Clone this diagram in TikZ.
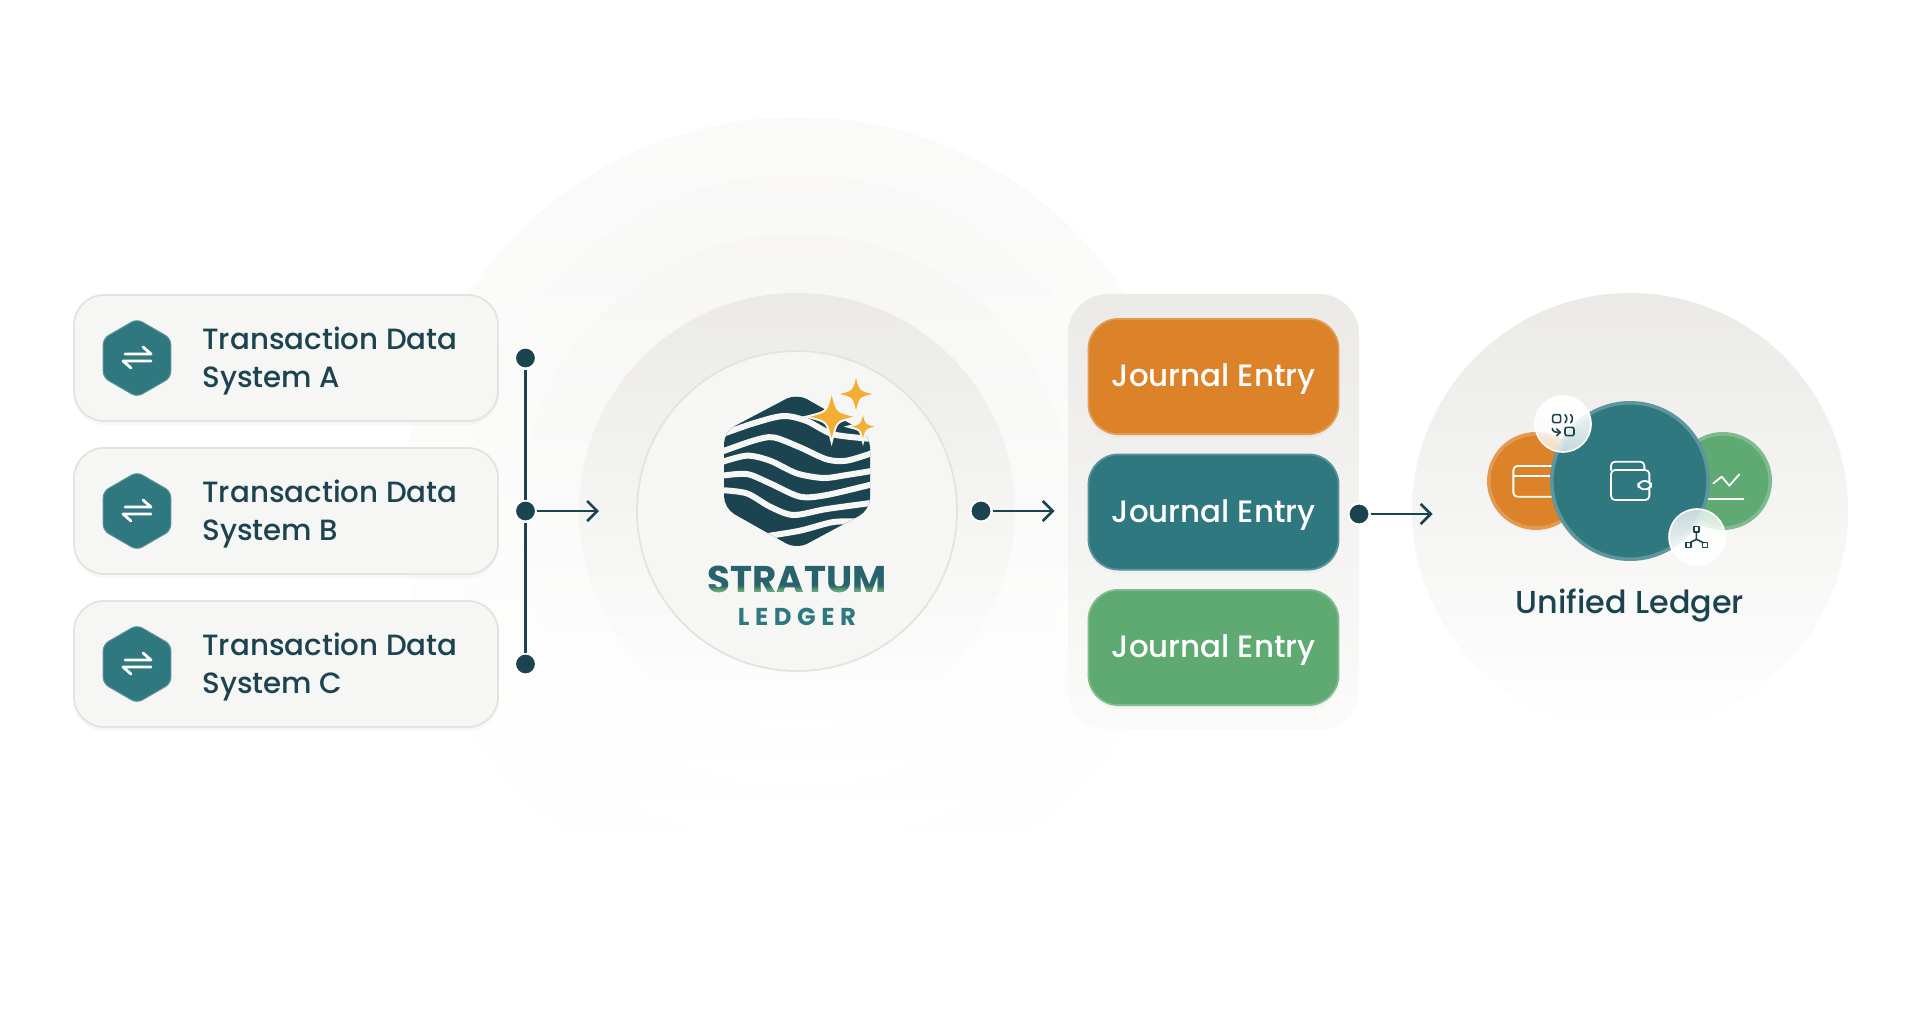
\documentclass[tikz,border=0pt]{standalone}
\usepackage{fontspec}
\setmainfont{Poppins}[UprightFont=* Medium,BoldFont=* Bold]
\usetikzlibrary{shapes.geometric, arrows.meta, positioning, shadows, fadings}

\definecolor{inkdark}{HTML}{1C4450}
\definecolor{tealmain}{HTML}{2F7880}
\definecolor{orangemain}{HTML}{DC8228}
\definecolor{greenmain}{HTML}{5FAA72}
\definecolor{goldstar}{HTML}{F3AE33}
\definecolor{cardfill}{HTML}{F6F6F4}
\definecolor{cardline}{HTML}{E4E3DD}
\definecolor{ringtop}{HTML}{EBEAE7}

\newcommand{\swaparrows}[1]{%
    \draw [swapline, shift={(#1)}] (-12,-4) -- (14,-4) -- (6,-11);
    \draw [swapline, shift={(#1)}] (14,3) -- (-14,3) -- (-6,10);
}
\newcommand{\sparkle}[3]{%
    \path [preaction={draw=cardfill, line width=2pt}, fill=goldstar, shift={(#1,#2)}, scale=#3]
        (0,-1) .. controls (.2,-.2) .. (1,0) .. controls (.2,.2) .. (0,1)
        .. controls (-.2,.2) .. (-1,0) .. controls (-.2,-.2) .. (0,-1) -- cycle;
}

\begin{document}
\begin{tikzpicture}[
        x=0.5pt, y=-0.5pt,
        >={Straight Barb[length=5pt, width=10pt]},
        every node/.style={font=\fontsize{14.65}{19}\selectfont, text=inkdark},
        ring/.style={circle, inner sep=0pt, outer sep=0pt, top color=#1, bottom color=white, draw=none},
        card/.style={draw=cardline, line width=0.9pt, fill=cardfill, rectangle, rounded corners=15pt, minimum width=212pt, minimum height=63pt, inner sep=0pt,
            drop shadow={shadow xshift=0pt, shadow yshift=-2pt, opacity=.05}},
        hexa/.style={regular polygon, regular polygon sides=6, shape border rotate=30, fill=tealmain, draw=tealmain!80!white, line width=0.5pt, minimum size=39pt, inner sep=0pt, rounded corners=3pt},
        cardtext/.style={align=left, inner sep=0pt, anchor=west},
        swapline/.style={draw=white, line width=1.4pt, line cap=round, line join=round},
        dot/.style={circle, fill=inkdark, draw=white, line width=1pt, minimum size=10.5pt, inner sep=0pt},
        link/.style={draw=inkdark, line width=1.3pt},
        wave/.style={draw=cardfill, line width=3pt},
        entry/.style={rectangle, fill=#1, draw=#1!80!white, line width=0.9pt, rounded corners=15pt, minimum width=125pt, minimum height=57.6pt, inner sep=0pt, text=white, text height=13.6pt, text depth=3.5pt, font=\fontsize{15.45}{19}\selectfont,
            drop shadow={shadow xshift=0pt, shadow yshift=-2pt, opacity=.05}},
        bubble/.style={circle, fill=#1, draw=#1!80!white, line width=1.8pt, minimum size=47.2pt, inner sep=0pt},
        glass/.style={circle, draw=white, line width=0.8pt, minimum size=28pt, inner sep=0pt},
        glassicon/.style={draw=inkdark, line width=0.8pt, line cap=round, line join=round},
        lineicon/.style={draw=white, line width=0.9pt, line cap=round, line join=round}
    ]
        \useasboundingbox (0,0) rectangle (1920,1023);
        \fill [white] (0,0) rectangle (1920,1023);

        % Rings
        \node [ring=ringtop!25!white, minimum size=394pt] (ringD) at (797,511) {};
        \node [ring=ringtop!32!white, minimum size=336pt] (ringC) at (797,511) {};
        \node [ring=ringtop!42!white, minimum size=277pt] (ringB) at (797,511) {};
        \node [ring=ringtop, minimum size=218pt] (ringA) at (797,511) {};
        \node [ring=ringtop, minimum size=218pt] (ringE) at (1630,511) {};

        % Sources
        \node [card] (sysA) at (286,358) {};
        \node [card, below=12.6pt of sysA] (sysB) {};
        \node [card, below=12.6pt of sysB] (sysC) {};
        \node [hexa] (hexA) at (137,358) {};
        \node [hexa] (hexB) at (137,511) {};
        \node [hexa] (hexC) at (137,664) {};
        \swaparrows{hexA}
        \swaparrows{hexB}
        \swaparrows{hexC}
        \node [cardtext] (textA) at (202,361) {Transaction Data\\System A};
        \node [cardtext] (textB) at (202,514) {Transaction Data\\System B};
        \node [cardtext] (textC) at (202,667) {Transaction Data\\System C};

        % Hub
        \node [circle, fill=cardfill, draw=cardline, line width=0.9pt, minimum size=160pt, inner sep=0pt] (hub) at (797,511) {};
        \begin{scope}[shift={(620,340)}, scale=1/3]
            \begin{scope}
                \path [clip, rounded corners=6pt] (312,275) -- (530,160) -- (750,285) -- (750,510) -- (530,628) -- (312,505) -- cycle;
                \fill [inkdark] (300,150) rectangle (760,640);
                \draw [wave] plot [smooth] coordinates {(300,285) (400,250) (490,228) (560,243) (640,283) (760,297)};
                \draw [wave] plot [smooth] coordinates {(300,337) (400,302) (460,292) (540,322) (620,358) (680,362) (760,338)};
                \draw [wave] plot [smooth] coordinates {(300,368) (380,347) (450,362) (530,400) (610,414) (680,405) (760,392)};
                \draw [wave] plot [smooth] coordinates {(300,408) (380,402) (450,430) (540,470) (620,465) (760,432)};
                \draw [wave] plot [smooth] coordinates {(300,450) (380,460) (450,500) (520,525) (620,507) (760,488)};
                \draw [wave] plot [smooth] coordinates {(430,590) (540,572) (640,546) (720,545)};
            \end{scope}
            \sparkle{708}{162}{48}
            \sparkle{729}{260}{34}
            \sparkle{635}{230}{64}
        \end{scope}
        \node [font=\fontsize{18.6}{20}\bfseries\selectfont, text=tealmain!60!inkdark] (stratum) at (797,579) {STRATUM};
        \fill [blend mode=lighten, greenmain!40!black] (700,584) rectangle (895,586);
        \fill [blend mode=lighten, greenmain!65!black] (700,586) rectangle (895,588);
        \fill [blend mode=lighten, greenmain!85!black] (700,588) rectangle (895,590);
        \fill [blend mode=lighten, greenmain] (700,590) rectangle (895,597);
        \node [font=\fontsize{12.2}{12}\bfseries\selectfont, text=tealmain] (ledger) at (797,617) {L\kern2.8pt E\kern2.8pt D\kern2.8pt G\kern2.8pt E\kern2.8pt R};

        % Entries
        \node [rectangle, top color=ringtop, bottom color=ringtop!20!white, rounded corners=20pt, minimum width=145.5pt, minimum height=218pt, inner sep=0pt] (panel) at (1213.5,512) {};
        \node [entry=orangemain] (entryA) at (1213.5,376.5) {Journal Entry};
        \node [entry=tealmain, below=9.25pt of entryA] (entryB) {Journal Entry};
        \node [entry=greenmain, below=9.25pt of entryB] (entryC) {Journal Entry};

        % Connectors
        \node [dot] (dotA) at (525.5,358) {};
        \node [dot] (dotB) at (525.5,511) {};
        \node [dot] (dotC) at (525.5,664) {};
        \node [dot] (dotHub) at (981,511) {};
        \node [dot] (dotEntry) at (1359,514) {};
        \coordinate [right=31pt of dotB] (tipB);
        \coordinate [right=31pt of dotHub] (tipHub);
        \coordinate [right=31pt of dotEntry] (tipEntry);
        \draw [link] (dotA) -- (dotB);
        \draw [link] (dotB) -- (dotC);
        \draw [link, ->] (dotB) -- (tipB);
        \draw [link, ->] (dotHub) -- (tipHub);
        \draw [link, ->] (dotEntry) -- (tipEntry);

        % Unified ledger
        \node [bubble=orangemain] (bubOrange) at (1536,481) {};
        \node [bubble=greenmain] (bubGreen) at (1723,481) {};
        \begin{scope}[shift={(1460,380)}, scale=1/3]
            \draw [lineicon, rounded corners=2pt] (330,258) -- (160,258) -- (160,350) -- (330,350);
            \draw [lineicon] (160,288) -- (330,288);
            \draw [lineicon] (760,310) -- (785,290) -- (808,317) -- (838,283);
            \draw [lineicon] (700,358) -- (850,358);
        \end{scope}
        \node [circle, fill=tealmain, draw=tealmain!78!white, line width=1.8pt, minimum size=78.2pt, inner sep=0pt] (bubTeal) at (1630,481) {};
        \fill [white, opacity=.72] (1563,424) circle (28);
        \fill [white, path fading=south] (1563,424) circle (28);
        \fill [white, opacity=.72] (1697,537) circle (28);
        \fill [white, path fading=north] (1697,537) circle (28);
        \node [glass] (glassQr) at (1563,424) {};
        \node [glass] (glassNet) at (1697,537) {};
        \begin{scope}[shift={(1460,380)}, scale=1/3]
            % Wallet
            \draw [lineicon, rounded corners=2pt] (453,270) -- (453,360) -- (568,360) -- (568,270) -- cycle;
            \draw [lineicon, rounded corners=2pt] (453,270) -- (453,245) -- (553,245) -- (553,270);
            \draw [lineicon, fill=tealmain, rounded corners=3pt] (535,303) rectangle (573,328);
            % Codes
            \draw [glassicon, rounded corners=1pt] (278,104) rectangle (302,128);
            \draw [glassicon] (315,104) .. controls (322,112) and (322,120) .. (315,128);
            \draw [glassicon] (332,104) .. controls (339,112) and (339,120) .. (332,128);
            \draw [glassicon, rounded corners=1pt] (315,142) rectangle (342,167);
            \draw [glassicon] (277,145) .. controls (278,156) and (286,157) .. (300,157);
            \draw [glassicon] (290,147) -- (301,157) -- (290,167);
            % Network
            \draw [glassicon] (702,440) rectangle (717,456);
            \draw [glassicon] (678,488) rectangle (693,503);
            \draw [glassicon] (727,488) rectangle (742,503);
            \draw [glassicon] (709,456) -- (709,478) -- (690,488);
            \draw [glassicon] (709,478) -- (730,488);
        \end{scope}
        \node [font=\fontsize{15.9}{19}\selectfont] (unified) at (1630,606) {Unified Ledger};
    \end{tikzpicture}
\end{document}
